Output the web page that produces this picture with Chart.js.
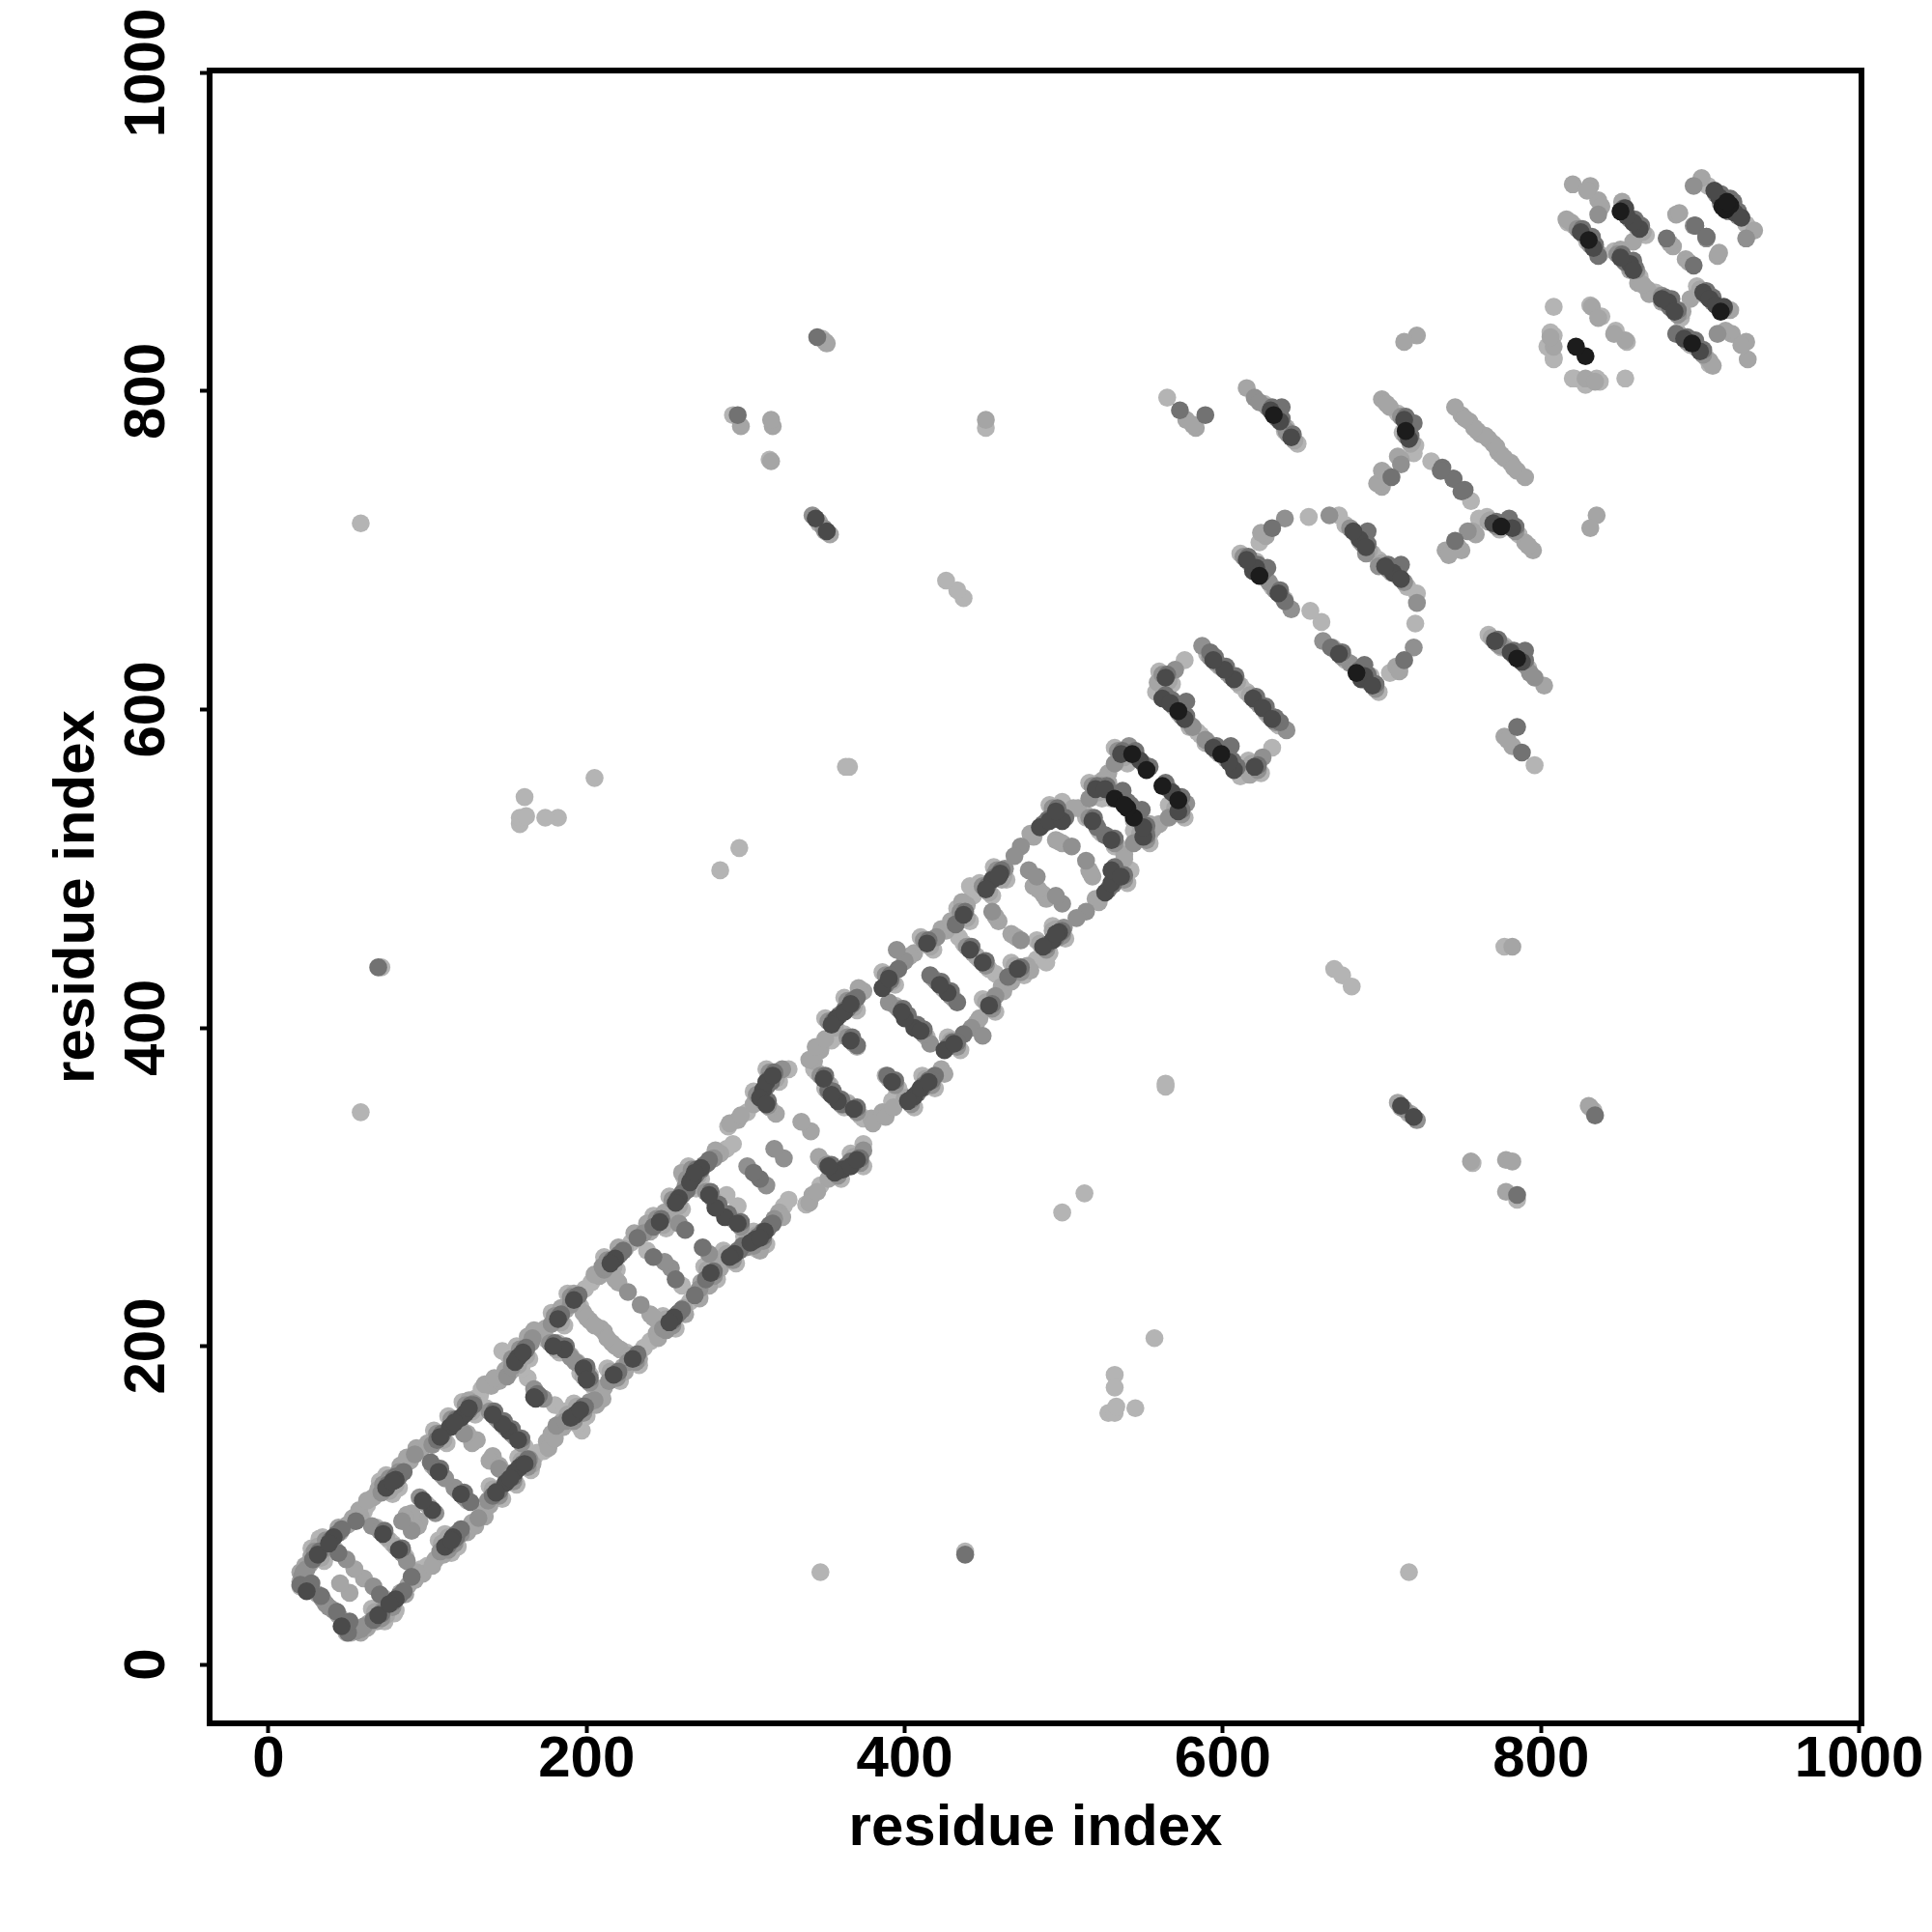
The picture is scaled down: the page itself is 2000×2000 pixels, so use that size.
<!DOCTYPE html>
<html>
<head>
<meta charset="utf-8">
<title>residue contact map</title>
<script src="https://cdn.jsdelivr.net/npm/chart.js@4"></script>
<style>
html, body { margin: 0; background: #fff; }
canvas { display: block; }
</style>
</head>
<body>
<canvas id="myChart" width="2000" height="2000"></canvas>
<script>
// contact map is symmetric, so only the x > y half is listed
const tickValues = [0, 200, 400, 600, 800, 1000];
const axisTitle = 'residue index';

const blackContacts = [
  [544,532],[540,538],[562,552],[572,543],[599,572],[684,623],[775,715],[785,632],
  [914,916],[919,917],[828,822],[913,850],[895,830]
];
const darkContacts = [
  [46,24],[80,41],[116,80],[149,114],[155,121],[158,124],[168,167],[193,157],[255,218],[293,258],[306,267],[312,272],
  [287,281],[361,311],[366,313],[406,357],[410,362],[406,400],[425,386],[493,455],[526,485],[530,491],[530,499],
  [607,562],[687,619],[707,686],[880,856],
  [69,31],[76,38],[111,74],[115,78],[143,108],[152,117],[161,126],[190,155],[196,160],[217,182],[229,192],[252,215],
  [278,246],[290,256],[303,265],[309,268],[295,277],[356,309],[370,317],[358,354],[368,349],[392,366],[402,354],
  [415,366],[431,390],[410,398],[453,414],[471,437],[487,451],[497,460],[82,72],[103,97],[121,107],[151,147],
  [157,141],[198,186],[200,179],[495,459],[536,495],[550,520],[572,536],[550,526],[530,518],[568,548],[594,576],
  [604,567],[620,564],[619,607],[625,601],[631,594],[673,635],[689,621],[694,615],[702,690],[712,682],[449,441],
  [427,422],[712,351],[720,344],[352,313],[771,643],[781,636],[788,630],[782,714],[770,717],[902,862],[906,858],
  [910,854],[890,833],[900,825],[876,858],[884,850],[916,915],[922,912],[926,909],[915,853]
];
const midContacts = [
  [48,26],[82,43],[118,82],[151,116],[157,123],[160,126],[170,169],[195,159],[257,220],[295,260],[308,269],[314,274],
  [289,283],[363,313],[368,315],[408,359],[412,364],[408,402],[427,388],[495,457],[528,487],[532,493],[532,501],
  [546,534],[542,540],[564,554],[574,545],[601,574],[609,564],[686,625],[689,621],[709,688],[777,717],[787,634],
  [916,918],[921,919],[915,852],[897,832],[882,858],
  [43,33],[50,20],[66,28],[70,44],[90,55],[118,80],[141,106],[144,109],[199,162],[220,184],[232,195],[258,221],
  [268,232],[275,242],[315,276],[296,260],[389,370],[419,370],[437,396],[465,432],[361,352],[309,305],[256,242],
  [273,262],[127,102],[433,416],[526,521],[636,592],[668,639],[714,631],[746,706],[785,589],[788,573],[745,745],
  [752,738],[737,750],[834,345],[785,295],[438,69],[896,879],[885,836],[895,832],[904,897],[897,904],[881,853],
  [71,32],[78,39],[113,75],[117,79],[145,109],[154,118],[163,127],[192,156],[198,161],[219,183],[231,193],[254,216],
  [280,247],[292,257],[305,266],[311,269],[297,278],[358,310],[372,318],[360,355],[370,350],[394,367],[404,355],
  [417,367],[433,391],[412,399],[455,415],[473,438],[489,452],[499,461],[84,73],[123,108],[153,148],[159,142],
  [200,187],[202,180],[497,460],[538,496],[552,521],[574,537],[552,527],[532,519],[596,577],[606,568],[622,565],
  [621,608],[627,602],[633,595],[675,636],[691,622],[696,616],[704,691],[451,442],[429,423],[354,314],[773,644],
  [783,637],[790,631],[784,715],[772,718],[904,863],[908,859],[892,834],[902,826],[878,859],[886,851],[918,916],[924,913],
  [51,27],[85,46],[121,85],[154,119],[160,126],[163,129],[198,162],[260,223],[298,263],[311,272],[317,277],[366,316],
  [371,318],[411,362],[415,367],[430,391],[498,460],[531,490],[535,496],[549,537],[605,577],[689,628],[712,691],
  [780,720],[790,637]
];
const greyContacts = [
  [38,36],[41,34],[48,26],[52,22],[55,21],[58,22],[60,24],[66,49],[72,34],[108,71],[121,82],[132,92],[138,103],[164,129],
  [181,150],[187,153],[202,165],[205,166],[214,178],[226,190],[248,211],[271,236],[300,262],[318,280],[374,323],
  [351,314],[442,400],[449,395],[457,420],[473,455],[416,390],[500,463],[514,473],[577,541],[87,65],[90,84],[117,111],
  [145,123],[173,167],[193,190],[234,226],[250,210],[253,249],[277,258],[313,301],[324,318],[499,478],[495,483],
  [514,505],[589,581],[625,570],[640,587],[663,643],[680,629],[720,639],[698,690],[722,667],[566,532],[544,516],
  [508,469],[754,712],[775,640],[796,620],[793,623],[911,836],[904,896],[929,896],[915,852],[876,860],
  [71,29],[78,36],[113,72],[117,76],[145,106],[154,115],[163,124],[192,153],[198,158],[219,180],[231,190],[254,213],
  [280,244],[292,254],[305,263],[311,266],[297,275],[358,307],[372,315],[360,352],[370,347],[394,364],[404,352],
  [417,364],[433,388],[412,396],[455,412],[473,435],[489,449],[499,458],[84,70],[105,95],[123,105],[153,145],
  [159,139],[200,184],[202,177],[497,457],[538,493],[552,518],[574,534],[552,524],[532,516],[570,546],[596,574],
  [606,565],[622,562],[621,605],[627,599],[633,592],[675,633],[691,619],[696,613],[704,688],[714,680],[451,439],
  [429,420],[714,349],[722,342],[354,311],[773,641],[783,634],[790,628],[784,712],[772,715],[904,860],[908,856],
  [912,852],[892,831],[902,823],[878,856],[886,848],[918,913],[924,910]
];
const lightContacts = [
  [44,31],[51,45],[60,54],[63,26],[83,45],[88,50],[93,58],[105,66],[128,89],[135,96],[175,140],[178,145],[184,152],
  [208,170],[211,174],[223,187],[244,208],[261,224],[272,240],[321,284],[309,260],[342,295],[352,305],[346,319],
  [341,335],[379,343],[386,347],[423,374],[447,406],[461,426],[477,439],[281,252],[141,131],[94,87],[216,202],[221,198],
  [211,209],[240,220],[246,214],[467,459],[489,481],[516,499],[518,495],[554,528],[560,528],[538,509],[520,481],
  [615,562],[709,627],[740,700],[777,583],[782,577],[770,767],[775,760],[781,755],[748,702],[757,712],[767,718],
  [782,451],[350,831],[835,722],[831,714],[712,350],[756,316],[778,317],[782,316],[778,297],[830,351],[773,762],
  [785,750],[790,746],[790,705],[795,700],[802,615],[868,861],[920,836],[929,831],[853,832],[846,836],
  [828,808],[834,806],[911,885],[891,883],[906,819],[894,858],[889,850],[919,851],[930,820],[934,901],
  [67,33],[74,40],[109,76],[113,80],[141,110],[150,119],[159,128],[188,157],[194,162],[215,184],[227,194],[250,217],
  [276,248],[288,258],[301,267],[307,270],[293,279],[354,311],[368,319],[356,356],[366,351],[390,368],[400,356],
  [413,368],[429,392],[408,400],[451,416],[469,439],[485,453],[495,462],[80,74],[101,99],[119,109],[149,149],
  [155,143],[196,188],[198,181],[493,461],[534,497],[548,522],[570,538],[548,528],[528,520],[566,550],[592,578],
  [602,569],[618,566],[617,609],[623,603],[629,596],[671,637],[687,623],[692,617],[700,692],[710,684],[447,443],
  [425,424],[710,353],[718,346],[350,315],[769,645],[779,638],[786,632],[780,716],[768,719],[900,864],[904,860],
  [908,856],[888,835],[898,827],[874,860],[882,852],[914,917],[920,914],
  [58,20],[62,23],[68,27],[74,31],[86,44],[92,53],[97,57],[103,62],[110,69],[125,83],[130,87],[136,93],[139,100],
  [166,126],[176,136],[180,142],[185,149],[206,163],[210,167],[224,184],[233,192],[245,205],[262,220],[271,230],
  [277,238],[284,249],[323,281],[340,290],[345,297],[380,340],[388,344],[393,350],[425,371],[445,403],[462,423],
  [467,429],[479,436],[139,128],[145,125],[95,90],[92,86],[218,200],[213,205],[242,218],[248,212],[470,457],
  [487,484],[517,497],[556,525],[538,506],[522,479],[617,559],[711,624],[742,697],[779,581],[772,765],[777,758],
  [783,752],[750,700],[759,710],[792,703],[867,864],[876,856],[916,838],[926,829],[912,887],[893,881],[908,816]
];
const paleContacts = [
  [52,20],[49,20],[53,24],[79,32],[86,47],[96,60],[100,62],[124,85],[167,130],[169,133],[173,134],[197,147],[236,199],
  [240,203],[265,228],[324,288],[327,292],[305,262],[338,289],[347,301],[374,327],[374,343],[392,354],[395,358],
  [396,360],[483,443],[489,441],[180,163],[260,238],[295,288],[457,434],[542,499],[532,514],[584,586],[579,589],
  [611,558],[631,576],[615,611],[662,655],[693,621],[705,623],[721,654],[716,677],[722,673],[756,731],[742,698],
  [761,720],[796,565],[347,58],[438,71],[717,58],[499,284],[513,296],[532,182],[532,174],[528,158],[532,158],
  [533,162],[545,161],[557,205],[564,365],[564,363],[670,437],[675,433],[681,426],[777,451],[833,348],[717,346],
  [757,315],[785,292],[853,808],[821,808],[929,905],[933,901],[906,817],[835,808],[830,806],[828,804],[820,808],
  [854,831],[847,838],[837,806],
  [73,27],[80,34],[115,70],[119,74],[147,104],[156,113],[165,122],[194,151],[200,156],[221,178],[233,188],[256,211],
  [282,242],[294,252],[307,261],[313,264],[299,273],[360,305],[374,313],[362,350],[372,345],[396,362],[406,350],
  [419,362],[435,386],[414,394],[457,410],[475,433],[491,447],[501,456],[86,68],[125,103],[155,143],[161,137],
  [202,182],[204,175],[540,491],[554,516],[576,532],[554,522],[534,514],[598,572],[608,563],[624,560],[623,603],
  [629,597],[635,590],[677,631],[693,617],[698,611],[706,686],[453,437],[431,418],[775,639],[785,632],[792,626],
  [786,710],[774,713],[906,858],[910,854],[894,829],[904,821],[880,854],[888,846],
  [65,35],[72,42],[107,78],[111,82],[139,112],[148,121],[157,130],[186,159],[192,164],[213,186],[225,196],[248,219],
  [274,250],[286,260],[299,269],[305,272],[291,281],[352,313],[366,321],[354,358],[364,353],[388,370],[398,358],
  [411,370],[427,394],[406,402],[449,418],[467,441],[483,455],[493,464],[78,76],[117,111],[147,151],[153,145],
  [194,190],[196,183],[530,499],[544,524],[566,540],[544,530],[524,522],[590,580],[600,571],[616,568],[615,611],
  [621,605],[627,598],[669,639],[685,625],[690,619],[698,694],[445,445],[423,426],[767,647],[777,640],[784,634],
  [778,718],[766,721],[898,866],[902,862],[886,837],[896,829],[872,862],[880,856]
];

const greyLevels = [
  { contacts: blackContacts, colour: '#1c1c1c' },
  { contacts: darkContacts, colour: '#4a4a4a' },
  { contacts: midContacts, colour: '#727272' },
  { contacts: greyContacts, colour: '#909090' },
  { contacts: lightContacts, colour: '#a5a5a5' },
  { contacts: paleContacts, colour: '#b4b4b4' }
];

const frame = {
  id: 'frame',
  afterDraw(chart) {
    const { ctx, chartArea: a } = chart;
    ctx.save();
    ctx.strokeStyle = '#000';
    ctx.lineWidth = 6;
    ctx.strokeRect(a.left, a.top, a.right - a.left, a.bottom - a.top);
    ctx.restore();
  }
};

function fixBox(scale, size) {
  if (scale.isHorizontal()) scale.height = size; else scale.width = size;
  scale.paddingLeft = scale.paddingRight = scale.paddingTop = scale.paddingBottom = 0;
}

function axis(extra) {
  return Object.assign({
    type: 'linear',
    min: -37,
    max: 1001.5,
    afterBuildTicks(scale) { scale.ticks = tickValues.map(v => ({ value: v })); },
    grid: { drawOnChartArea: false, drawTicks: true, tickLength: 10, tickWidth: 4, tickColor: '#000' },
    border: { display: false }
  }, extra);
}

const titleFont = { family: 'Liberation Sans', size: 60, weight: 'bold' };
const tickFont = { family: 'Liberation Sans', size: 60, weight: 'bold' };
const tickText = v => String(v);

new Chart(document.getElementById('myChart').getContext('2d'), {
  type: 'scatter',
  data: {
    datasets: greyLevels.map(level => ({
      data: level.contacts.flatMap(([i, j]) => [{ x: i, y: j }, { x: j, y: i }]),
      backgroundColor: level.colour,
      borderWidth: 0,
      pointRadius: 9.3,
      pointHoverRadius: 9.3
    }))
  },
  options: {
    responsive: false,
    animation: false,
    events: [],
    layout: { padding: { top: 73, right: 73, left: 0, bottom: 0 } },
    plugins: { legend: { display: false }, tooltip: { enabled: false } },
    scales: {
      x: axis({
        afterFit: s => fixBox(s, 216),
        ticks: { color: '#000', font: tickFont, padding: -8, maxRotation: 0, minRotation: 0, autoSkip: false, callback: tickText },
        title: { display: true, text: axisTitle, color: '#000', font: titleFont, padding: { top: 0, bottom: 71 } }
      }),
      y: axis({
        afterFit: s => fixBox(s, 217),
        ticks: { color: '#000', font: tickFont, padding: -13, minRotation: 90, maxRotation: 90, crossAlign: 'center', autoSkip: false, callback: tickText },
        title: { display: true, text: axisTitle, color: '#000', font: titleFont, padding: { top: 44, bottom: 0 } }
      })
    }
  },
  plugins: [frame]
});
</script>
</body>
</html>
